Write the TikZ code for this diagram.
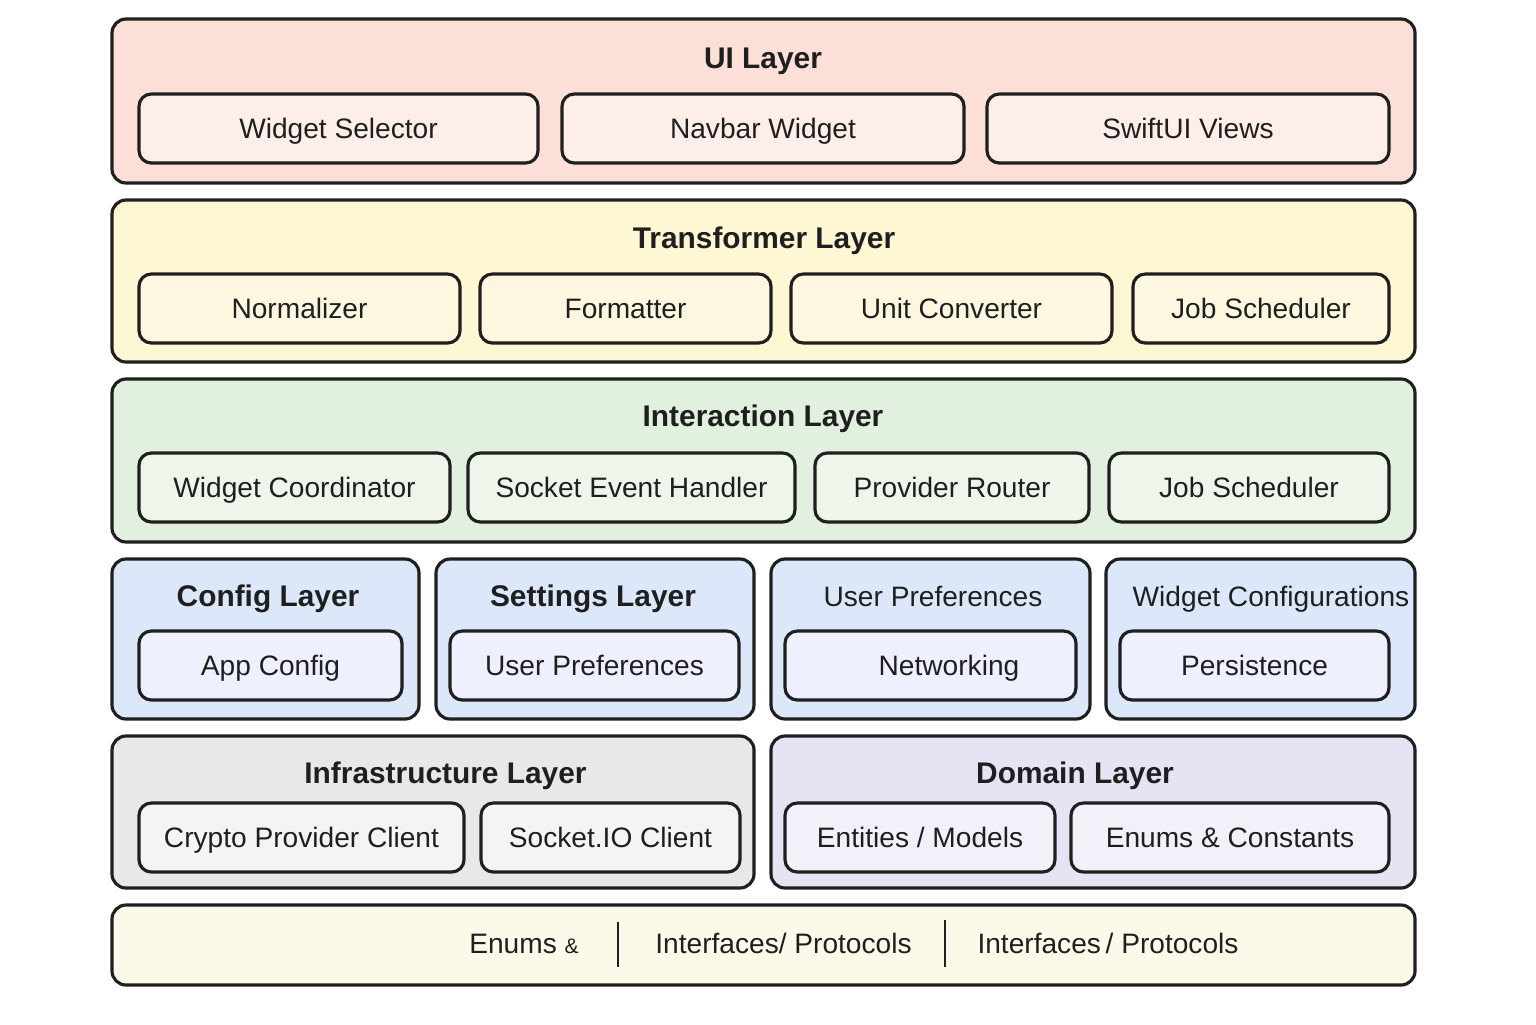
\documentclass[tikz,border=0pt]{standalone}
\usepackage{fontspec}
\setmainfont{Liberation Sans}
\usepackage{xcolor}
\definecolor{ink}{HTML}{1F1F1F}
\definecolor{uifill}{HTML}{FCDFD6}\definecolor{uibox}{HTML}{FDEEE9}
\definecolor{trfill}{HTML}{FDF7D3}\definecolor{trbox}{HTML}{FEF7E0}
\definecolor{iafill}{HTML}{E1F0DF}\definecolor{iabox}{HTML}{EEF6EC}
\definecolor{cffill}{HTML}{DCE8F9}\definecolor{cfbox}{HTML}{EEF1FD}
\definecolor{inffill}{HTML}{E8E8E8}\definecolor{infbox}{HTML}{F4F4F4}
\definecolor{domfill}{HTML}{E7E3F4}\definecolor{dombox}{HTML}{F3F0FA}
\definecolor{botfill}{HTML}{FDF9E8}
\begin{document}
\begin{tikzpicture}[every node/.style={text=ink,inner sep=0pt,outer sep=0pt},layer/.style={draw=ink,line width=.9pt,rounded corners=4pt},part/.style={draw=ink,line width=.9pt,rounded corners=3.5pt,minimum height=.69cm,text height=5.8pt,text depth=0pt,font=\fontsize{8}{10}\selectfont},ttl/.style={font=\fontsize{8.5}{10}\selectfont\bfseries,text height=6pt,text depth=1.5pt},plain/.style={font=\fontsize{8}{10}\selectfont,text height=5.8pt,text depth=1.5pt}]
\useasboundingbox[fill=white] (0,0) rectangle (15.36,-10.24);
% UI layer
\node[layer,fill=uifill,minimum width=13.03cm,minimum height=1.64cm] (ui) at (7.635,-1.01){};\node[ttl] (uiT) at (7.63,-.61){UI Layer};
\foreach \x/\w/\t/\n in {3.385/3.99/Widget Selector/a,7.63/4.02/Navbar Widget/b,11.88/4.02/SwiftUI Views/c}
  \node[part,fill=uibox,minimum width=\w cm] (ui\n) at (\x,-1.285){\t};
% Transformer layer
\node[layer,fill=trfill,minimum width=13.03cm,minimum height=1.62cm] (tr) at (7.635,-2.81){};\node[ttl] (trT) at (7.64,-2.41){Transformer Layer};
\foreach \x/\w/\t/\n in {2.995/3.21/Normalizer/a,6.255/2.91/Formatter/b,9.515/3.21/Unit Converter/c,12.61/2.56/Job Scheduler/d}
  \node[part,fill=trbox,minimum width=\w cm] (tr\n) at (\x,-3.085){\t};
% Interaction layer
\node[layer,fill=iafill,minimum width=13.03cm,minimum height=1.63cm] (ia) at (7.635,-4.605){};\node[ttl] (iaT) at (7.63,-4.19){Interaction Layer};
\foreach \x/\w/\t/\n in {2.945/3.11/Widget Coordinator/a,6.315/3.27/Socket Event Handler/b,9.52/2.74/Provider Router/c,12.49/2.80/Job Scheduler/d}
  \node[part,fill=iabox,minimum width=\w cm] (ia\n) at (\x,-4.875){\t};
% config row
\node[layer,fill=cffill,minimum width=3.07cm,minimum height=1.60cm] (cf) at (2.655,-6.39){};\node[ttl] (cfT) at (2.68,-5.99){Config Layer};
\node[layer,fill=cffill,minimum width=3.18cm,minimum height=1.60cm] (st) at (5.95,-6.39){};\node[ttl] (stT) at (5.93,-5.99){Settings Layer};
\node[layer,fill=cffill,minimum width=3.19cm,minimum height=1.60cm] (up) at (9.305,-6.39){};\node[plain] (upT) at (9.33,-5.99){User Preferences};
\node[layer,fill=cffill,minimum width=3.09cm,minimum height=1.60cm] (wc) at (12.605,-6.39){};\node[plain] (wcT) at (12.71,-5.99){Widget Configurations};
\node[part,fill=cfbox,minimum width=2.63cm] (cfa) at (2.705,-6.655){App Config};
\node[part,fill=cfbox,minimum width=2.89cm] (sta) at (5.945,-6.655){User Preferences};
\node[part,fill=cfbox,minimum width=2.91cm,text width=2.91cm,align=center] (upa) at (9.305,-6.655){\hspace*{.37cm}Networking};
\node[part,fill=cfbox,minimum width=2.69cm] (wca) at (12.545,-6.655){Persistence};
% infrastructure + domain
\node[layer,fill=inffill,minimum width=6.42cm,minimum height=1.52cm] (inf) at (4.33,-8.12){};\node[ttl] (infT) at (4.455,-7.76){Infrastructure Layer};
\node[part,fill=infbox,minimum width=3.25cm] (infa) at (3.015,-8.375){Crypto Provider Client};
\node[part,fill=infbox,minimum width=2.59cm] (infb) at (6.105,-8.375){Socket.IO Client};
\node[layer,fill=domfill,minimum width=6.44cm,minimum height=1.52cm] (dom) at (10.93,-8.12){};\node[ttl] (domT) at (10.75,-7.76){Domain Layer};
\node[part,fill=dombox,minimum width=2.70cm] (doma) at (9.20,-8.375){Entities / Models};
\node[part,fill=dombox,minimum width=3.18cm] (domb) at (12.30,-8.375){Enums \& Constants};
% shared bar
\node[layer,fill=botfill,minimum width=13.03cm,minimum height=.80cm] (bot) at (7.635,-9.45){};
\node[plain] (botA) at (5.24,-9.46){Enums {\fontsize{6}{8}\selectfont\&}};
\node[plain] (botB) at (7.835,-9.46){Interfaces/ Protocols};
\node[plain] (botC) at (11.08,-9.46){Interfaces\,/ Protocols};
\draw[ink,line width=.8pt] (6.18,-9.22)--(6.18,-9.67) (9.45,-9.2)--(9.45,-9.67);
\end{tikzpicture}
\end{document}
